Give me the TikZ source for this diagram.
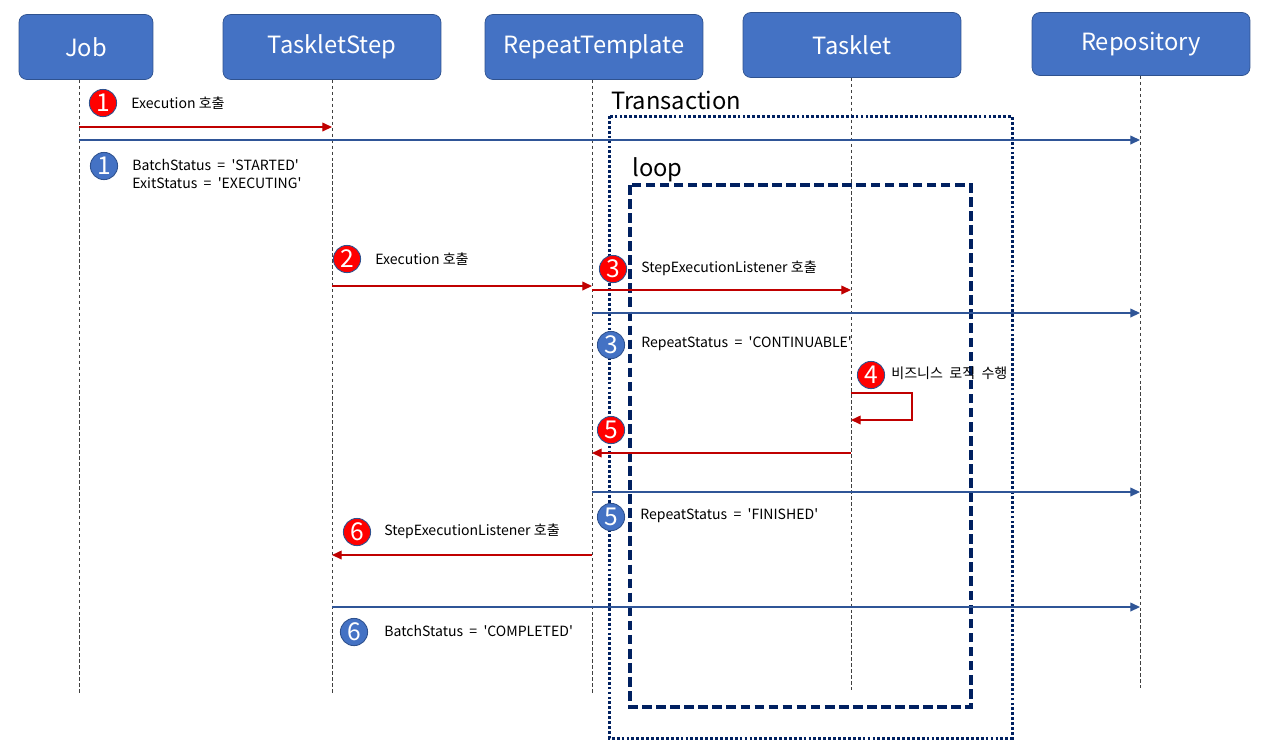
\documentclass[tikz,border=0pt]{standalone}
\usepackage{fontspec}
\setmainfont{Noto Sans CJK KR}
\usetikzlibrary{arrows.meta}
\definecolor{boxblue}{HTML}{4472C4}
\definecolor{boxline}{HTML}{2F528F}
\definecolor{msgred}{HTML}{C00000}
\definecolor{msgblue}{HTML}{2F5597}
\definecolor{navy}{HTML}{002060}
\newcommand{\sq}{\textquotesingle}
\newcommand{\eqsp}{\ \ =\ \ }
\tikzset{
  actor/.style={draw=boxline, fill=boxblue, rounded corners=4.5pt, text=white,
    font=\fontsize{13.5pt}{16pt}\selectfont, minimum height=1.3cm, inner sep=0pt},
  lifeline/.style={draw=black!75, dash pattern=on 2pt off 1.4pt, line width=0.5pt},
  redmsg/.style={draw=msgred, line width=0.7pt, -{Triangle[length=5.5pt,width=5pt]}},
  bluemsg/.style={draw=msgblue, line width=0.7pt, -{Triangle[length=5.5pt,width=5pt]}},
  rednum/.style={circle, draw=boxline, line width=0.5pt, fill=red, text=white,
    minimum size=15.5pt, inner sep=0pt, font=\fontsize{14pt}{14pt}\selectfont},
  bluenum/.style={rednum, fill=boxblue},
  msgtext/.style={anchor=west, inner sep=0pt, font=\fontsize{8pt}{10.2pt}\selectfont},
  areatext/.style={anchor=base west, inner sep=0pt, font=\fontsize{13.5pt}{16pt}\selectfont}
}
\begin{document}
\begin{tikzpicture}[x=0.02cm, y=-0.02cm]
\useasboundingbox (0,0) rectangle (1287,755);

% 헤더
\node[actor, minimum width=2.68cm] (job) at (86,47) {Job};
\node[actor, minimum width=4.36cm] (step) at (332,47) {TaskletStep};
\node[actor, minimum width=4.36cm] (tmpl) at (594,47) {RepeatTemplate};
\node[actor, minimum width=4.36cm] (task) at (852,45) {Tasklet};
\node[actor, minimum width=4.36cm, minimum height=1.26cm] (repo) at (1141,44) {Repository};

% 생명선
\coordinate (jobEnd) at (79,693);
\coordinate (stepEnd) at (332,693);
\coordinate (tmplEnd) at (592,693);
\coordinate (taskEnd) at (851,690);
\coordinate (repoEnd) at (1140,688);
\draw[lifeline] (job.south -| jobEnd) -- (jobEnd);
\draw[lifeline] (step.south -| stepEnd) -- (stepEnd);
\draw[lifeline] (tmpl.south -| tmplEnd) -- (tmplEnd);
\draw[lifeline] (task.south -| taskEnd) -- (taskEnd);
\draw[lifeline] (repo.south -| repoEnd) -- (repoEnd);

% Transaction / loop
\draw[navy, line width=1.7pt, dash pattern=on 1.6pt off 1.2pt] (609,116) rectangle (1012,738);
\node[areatext] (tx) at (611,109) {Transaction};
\draw[navy, line width=2pt, dash pattern=on 5.5pt off 2.5pt] (630,185) rectangle (971,707);
\node[areatext] (lp) at (632,176) {loop};

% 1
\node[rednum] (r1) at (103,103) {1};
\node[msgtext] (t1) at (131,103) {Execution 호출};
\draw[redmsg] (jobEnd |- 0,127) -- (stepEnd |- 0,127);
\draw[bluemsg] (jobEnd |- 0,140) -- (repoEnd |- 0,140);
\node[bluenum] (b1) at (104,166) {1};
\node[msgtext, align=left] (s1) at (132,174) {BatchStatus\eqsp\sq STARTED\sq\\ExitStatus\eqsp\sq EXECUTING\sq};

% 2
\node[rednum] (r2) at (347,259) {2};
\node[msgtext] (t2) at (375,259) {Execution 호출};
\draw[redmsg] (stepEnd |- 0,286) -- (tmplEnd |- 0,286);

% 3
\node[rednum] (r3) at (613,269) {3};
\node[msgtext] (t3) at (641,268) {StepExecutionListener 호출};
\draw[redmsg] (tmplEnd |- 0,290) -- (taskEnd |- 0,290);
\draw[bluemsg] (tmplEnd |- 0,313) -- (repoEnd |- 0,313);
\node[bluenum] (b3) at (611,345) {3};
\node[msgtext] (s3) at (641,344) {RepeatStatus\eqsp\sq CONTINUABLE\sq};

% 4
\node[rednum] (r4) at (871,375) {4};
\node[msgtext] (t4) at (891,373) {비즈니스\ \ 로직\ \ 수행};
\draw[redmsg] (taskEnd |- 0,393) -| (912,420) -- (taskEnd |- 0,420);

% 5
\node[rednum] (r5) at (611,430) {5};
\draw[redmsg] (taskEnd |- 0,453) -- (tmplEnd |- 0,453);
\draw[bluemsg] (tmplEnd |- 0,492) -- (repoEnd |- 0,492);
\node[bluenum] (b5) at (611,517) {5};
\node[msgtext] (s5) at (640,516) {RepeatStatus\eqsp\sq FINISHED\sq};

% 6
\node[rednum] (r6) at (357,532) {6};
\node[msgtext] (t6) at (384,531) {StepExecutionListener 호출};
\draw[redmsg] (tmplEnd |- 0,555) -- (stepEnd |- 0,555);
\draw[bluemsg] (stepEnd |- 0,607) -- (repoEnd |- 0,607);
\node[bluenum] (b6) at (354,632) {6};
\node[msgtext] (s6) at (384,631) {BatchStatus\eqsp\sq COMPLETED\sq};
\end{tikzpicture}
\end{document}
